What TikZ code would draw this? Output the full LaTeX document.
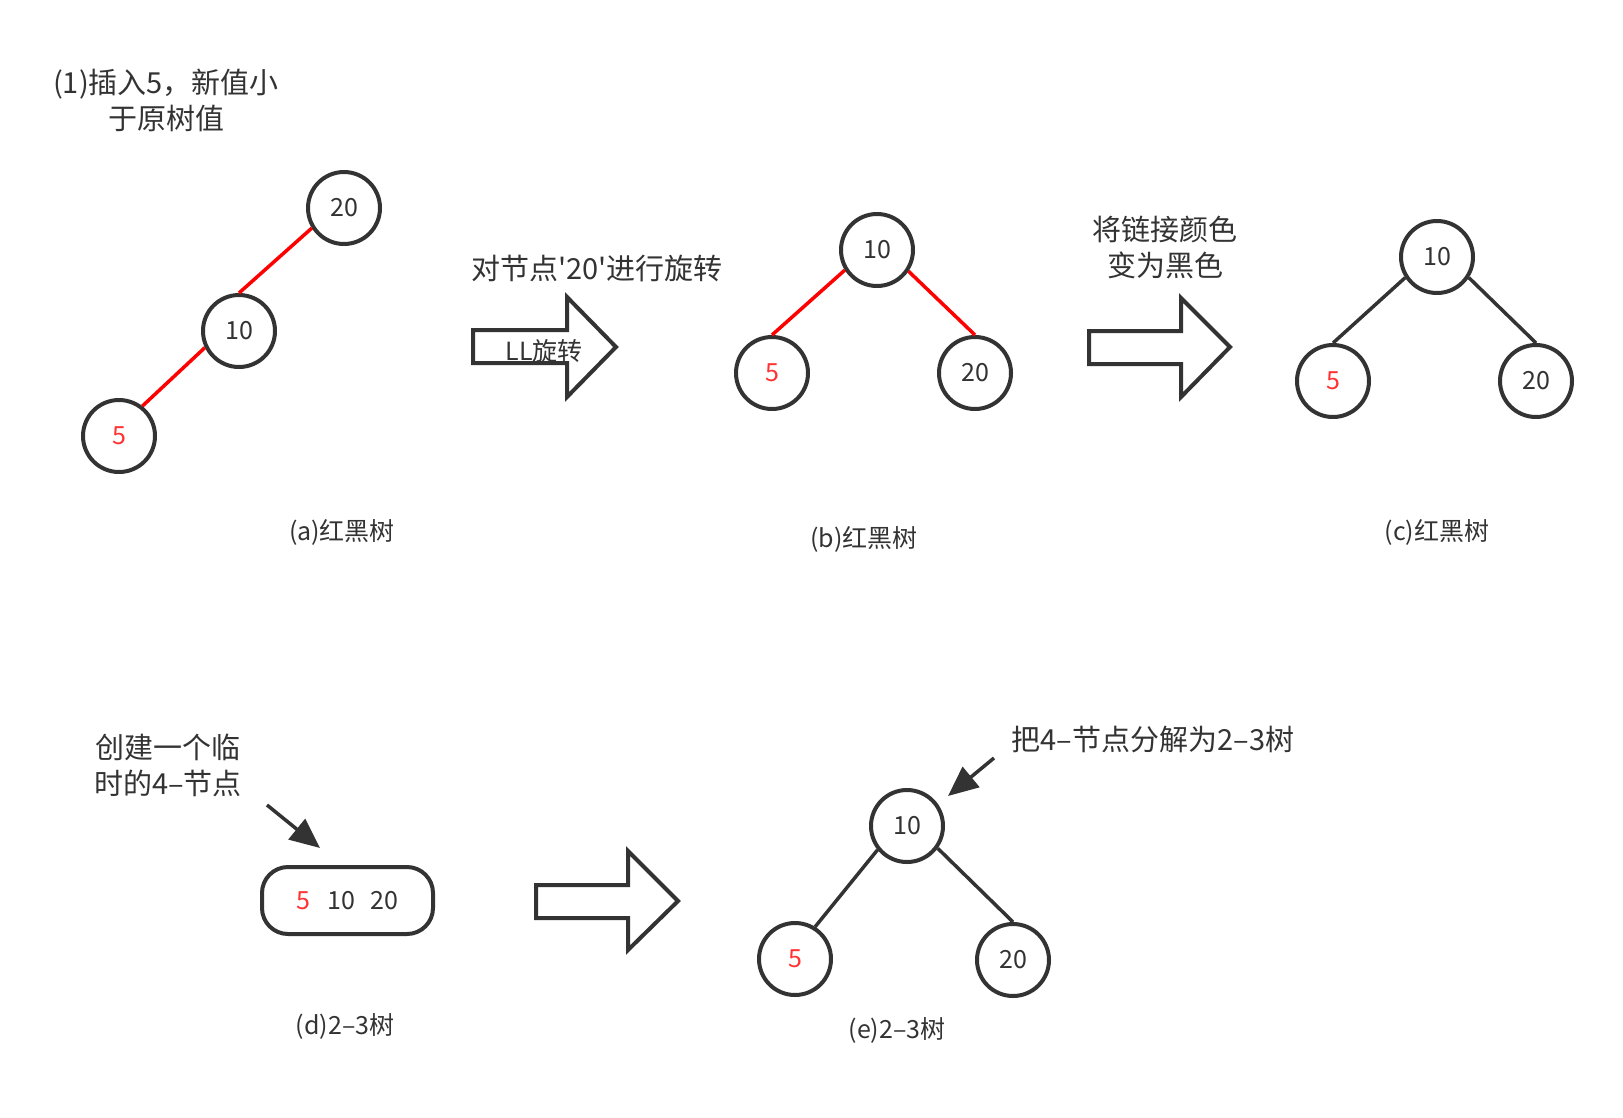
\documentclass[tikz,border=0pt]{standalone}
\usepackage{fontspec}
\setmainfont{Noto Sans CJK SC}[Ligatures=TeXOff]
\usetikzlibrary{arrows.meta}
\definecolor{ink}{HTML}{333333}
\definecolor{redtxt}{HTML}{FF3333}
\definecolor{redline}{HTML}{FF0000}
\begin{document}
\begin{tikzpicture}[x=1pt,y=-1pt,
  tn/.style={circle,draw=ink,line width=4pt,minimum size=72pt,inner sep=0pt,font=\fontsize{25}{25}\selectfont,text=ink},
  rn/.style={tn,text=redtxt},
  redge/.style={draw=redline,line width=3.5pt},
  bedge/.style={draw=ink,line width=3.5pt},
  note/.style={align=center,font=\fontsize{29}{36}\selectfont,text=ink,inner sep=0pt},
  capt/.style={font=\fontsize{25}{25}\selectfont,text=ink,inner sep=0pt},
  blockarrow/.style={draw=ink,line width=4pt,fill=white,line join=miter},
  ptr/.style={draw=ink,line width=3.5pt,-{Triangle[length=30pt,width=26pt]}}]
\useasboundingbox (0,0) rectangle (1623,1117);

% title
\node[note] (title) at (166,100) {(1)插入5，新值小\\于原树值};

% (a)
\node[tn] (a20) at (344,208) {20};
\node[tn] (a10) at (239,331) {10};
\node[rn] (a5) at (119,436) {5};
\draw[redge] (a20.212) -- (a10.north);
\draw[redge] (a10.206) -- (a5.52);
\node[capt] (capa) at (342,532) {(a)红黑树};

% arrow 1
\node[note] (rot) at (597,269) {对节点'20'进行旋转};
\draw[blockarrow] (473,330) -- (567,330) -- (567,297) -- (616,347) -- (567,397) -- (567,363) -- (473,363) -- cycle;
\node[capt] (ll) at (544,351) {LL旋转};

% (b)
\node[tn] (b10) at (877,250) {10};
\node[rn] (b5) at (772,373) {5};
\node[tn] (b20) at (975,373) {20};
\draw[redge] (b10.212) -- (b5.north);
\draw[redge] (b10.326) -- (b20.north);
\node[capt] (capb) at (864,539) {(b)红黑树};

% arrow 2
\node[note] (recolor) at (1165,247) {将链接颜色\\变为黑色};
\draw[blockarrow] (1089,331) -- (1181,331) -- (1181,298) -- (1230,347) -- (1181,397) -- (1181,364) -- (1089,364) -- cycle;

% (c)
\node[tn] (c10) at (1437,257) {10};
\node[rn] (c5) at (1333,381) {5};
\node[tn] (c20) at (1536,381) {20};
\draw[bedge] (c10.213) -- (c5.north);
\draw[bedge] (c10.327) -- (c20.north);
\node[capt] (capc) at (1437,532) {(c)红黑树};

% (d)
\node[note] (create) at (168,765) {创建一个临\\时的4–节点};
\node[draw=ink,line width=4pt,rounded corners=26pt,minimum width=171pt,minimum height=67pt,inner sep=0pt,font=\fontsize{25}{25}\selectfont,text=ink] (four) at (347.5,900.5) {\textcolor{redtxt}{5}\hspace{17pt}10\hspace{15pt}20};
\coordinate (ps) at (267,805);
\coordinate (pe) at (320,848);
\draw[ptr] (ps) -- (pe);
\node[capt] (capd) at (345,1026) {(d)2–3树};

% arrow 3
\draw[blockarrow] (536,885) -- (628,885) -- (628,851) -- (678,901) -- (628,950) -- (628,918) -- (536,918) -- cycle;

% (e)
\node[note] (split) at (1153,739) {把4–节点分解为2–3树};
\node[tn] (e10) at (907,826) {10};
\node[rn] (e5) at (795,959) {5};
\node[tn] (e20) at (1013,960) {20};
\draw[bedge] (e10.219) -- (e5.58);
\draw[bedge] (e10.324) -- (e20.north);
\coordinate (qs) at (994,758);
\coordinate (qe) at (948,796);
\draw[ptr] (qs) -- (qe);
\node[capt] (cape) at (897,1030) {(e)2–3树};
\end{tikzpicture}
\end{document}
